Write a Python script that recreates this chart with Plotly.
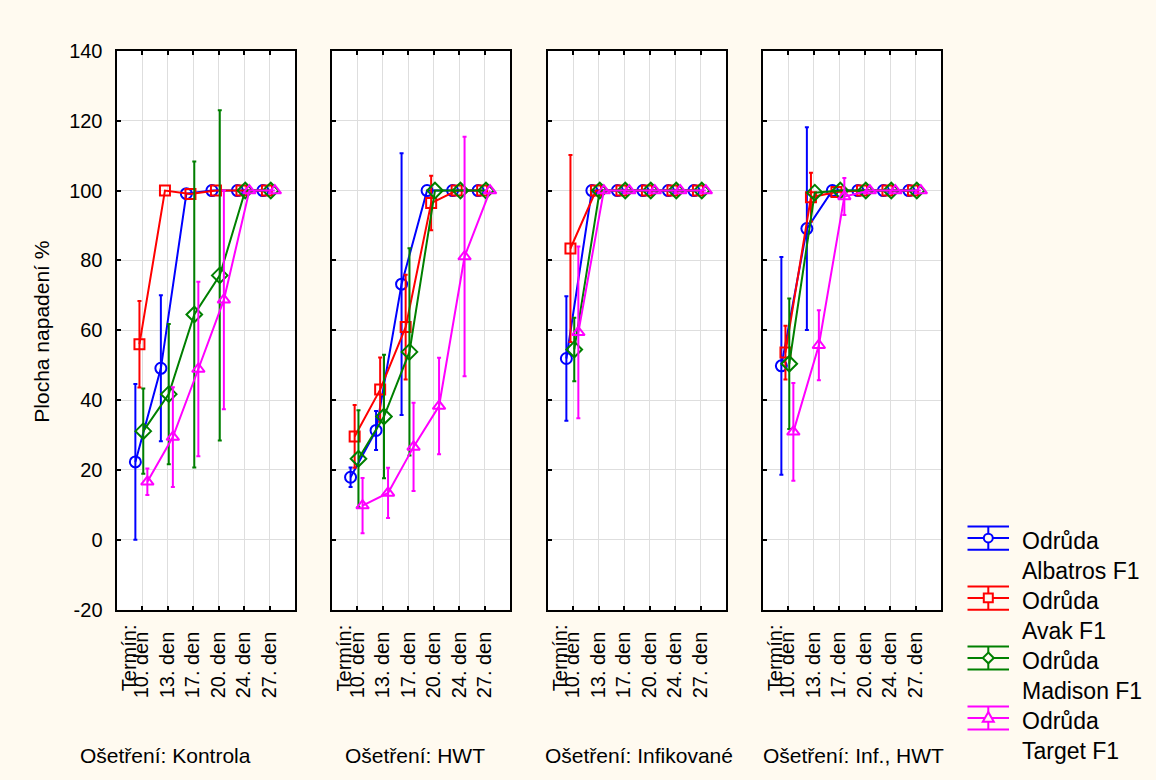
import plotly.graph_objects as go

# ---- data -------------------------------------------------------------
days = ["10. den", "13. den", "17. den", "20. den", "24. den", "27. den"]
treatments = ["Kontrola", "HWT", "Infikované", "Inf., HWT"]
varieties = ["Albatros F1", "Avak F1", "Madison F1", "Target F1"]

# mean infested area (%) per treatment, one list per variety
albatros_mean = [
    [22.3, 49.1, 99.1, 100, 100, 100],
    [17.9, 31.3, 73.2, 100, 100, 100],
    [51.9, 100, 100, 100, 100, 100],
    [49.8, 89.1, 100, 100, 100, 100],
]
albatros_err = [
    [22.3, 20.9, 0, 0, 0, 0],
    [2.8, 5.6, 37.5, 0, 0, 0],
    [17.8, 0, 0, 0, 0, 0],
    [31.2, 29.0, 0, 0, 0, 0],
]
avak_mean = [
    [56.0, 100, 99.0, 100, 100, 100],
    [29.6, 43.0, 60.9, 96.4, 100, 100],
    [83.4, 100, 100, 100, 100, 100],
    [53.6, 98.1, 99.6, 100, 100, 100],
]
avak_err = [
    [12.4, 0, 0, 0, 0, 0],
    [9.0, 9.2, 15.0, 7.8, 0, 0],
    [26.8, 0, 0, 0, 0, 0],
    [7.7, 7.0, 0, 0, 0, 0],
]
madison_mean = [
    [31.1, 41.7, 64.5, 75.7, 100, 100],
    [23.2, 35.3, 53.8, 100, 100, 100],
    [54.5, 100, 100, 100, 100, 100],
    [50.4, 99.4, 100, 100, 100, 100],
]
madison_err = [
    [12.2, 20.1, 43.8, 47.3, 0, 0],
    [13.9, 17.7, 29.7, 0, 0, 0],
    [9.1, 0, 0, 0, 0, 0],
    [18.7, 0, 0, 0, 0, 0],
]
target_mean = [
    [16.6, 29.4, 48.9, 68.7, 100, 100],
    [9.8, 13.4, 26.6, 38.3, 81.1, 100],
    [59.4, 100, 100, 100, 100, 100],
    [30.9, 55.7, 98.3, 100, 100, 100],
]
target_err = [
    [3.8, 14.3, 25.0, 31.3, 0, 0],
    [7.9, 7.2, 12.6, 13.8, 34.3, 0],
    [24.6, 0, 0, 0, 0, 0],
    [14.0, 10.0, 5.3, 0, 0, 0],
]
y_ticks = [-20, 0, 20, 40, 60, 80, 100, 120, 140]
y_tick_text = ["-20", "0", "20", "40", "60", "80", "100", "120", "140"]

# ---- styling ----------------------------------------------------------
W, H = 1156, 780
FONT = "Liberation Sans, Arial, sans-serif"
BG = "#FFFAF0"
GRID = "#DEDEDE"

series = [
    dict(name=varieties[0], mean=albatros_mean, err=albatros_err,
         color="#0000FF", symbol="circle-open", size=11, dx=-0.26),
    dict(name=varieties[1], mean=avak_mean, err=avak_err,
         color="#FF0000", symbol="square-open", size=10, dx=-0.10),
    dict(name=varieties[2], mean=madison_mean, err=madison_err,
         color="#008000", symbol="diamond-open", size=12, dx=0.05),
    dict(name=varieties[3], mean=target_mean, err=target_err,
         color="#FF00FF", symbol="triangle-up-open", size=11, dx=0.21),
]


def px_x(p):
    return p / W


def px_y(p):
    return 1 - p / H


panel_left = [116.5, 331.7, 547.5, 762.5]
panel_width = 178.5
plot_top, plot_bottom = 41, 616

fig = go.Figure()
layout = dict(
    width=W, height=H, autosize=False,
    margin=dict(l=0, r=0, t=0, b=0, pad=0),
    paper_bgcolor=BG, plot_bgcolor="white",
    font=dict(family=FONT, size=20, color="black"),
    showlegend=False,
)

for p in range(len(treatments)):
    sfx = "" if p == 0 else str(p + 1)
    xa, ya = "x" + sfx, "y" + sfx
    for s in series:
        xs = [i + s["dx"] for i in range(len(days))]
        fig.add_trace(go.Scatter(
            x=xs, y=s["mean"][p], xaxis=xa, yaxis=ya, mode="lines+markers",
            line=dict(color=s["color"], width=2),
            marker=dict(symbol=s["symbol"], size=s["size"], color=s["color"],
                        line=dict(width=2, color=s["color"])),
            name=s["name"], hoverinfo="skip",
        ))
        # error bars only where a spread exists
        ex = [x for x, e in zip(xs, s["err"][p]) if e > 0]
        ey = [y for y, e in zip(s["mean"][p], s["err"][p]) if e > 0]
        ee = [e for e in s["err"][p] if e > 0]
        fig.add_trace(go.Scatter(
            x=ex, y=ey, xaxis=xa, yaxis=ya, mode="markers",
            marker=dict(size=1, opacity=0),
            error_y=dict(type="data", array=ee, visible=True,
                         color=s["color"], thickness=2, width=2),
            hoverinfo="skip",
        ))

    left = panel_left[p]
    layout["xaxis" + sfx] = dict(
        domain=[px_x(left), px_x(left + panel_width)], anchor=ya,
        range=[-1, len(days)], tickvals=list(range(len(days))), ticktext=days,
        tickangle=-90, ticks="inside", ticklen=4, tickwidth=1.5, tickcolor="black",
        showline=True, linecolor="black", linewidth=2, mirror="ticks",
        showgrid=True, gridcolor=GRID, gridwidth=1, zeroline=False,
        tickfont=dict(size=20), ticklabelstandoff=12,
    )
    layout["yaxis" + sfx] = dict(
        domain=[px_y(plot_bottom), px_y(plot_top)], anchor=xa,
        range=[-20, 140], tickvals=y_ticks, ticktext=y_tick_text,
        ticks="inside", ticklen=4, tickwidth=1.5, tickcolor="black",
        showline=True, linecolor="black", linewidth=2, mirror=True,
        showgrid=True, gridcolor=GRID, gridwidth=1, zeroline=False,
        showticklabels=(p == 0), tickfont=dict(size=20), ticklabelstandoff=8,
    )

annotations = []
shapes = []

# first category label carries the "Termín:" prefix on an extra line
for p in range(len(treatments)):
    sfx = "" if p == 0 else str(p + 1)
    annotations.append(dict(
        text="Termín:", x=0, xref="x" + sfx, xshift=-13,
        y=px_y(666), yref="paper", textangle=-90, showarrow=False,
        xanchor="center", yanchor="middle", font=dict(size=20),
    ))

# treatment titles under the panels
title_centers = [165, 414.5, 638.5, 853.5]
for p, t in enumerate(treatments):
    annotations.append(dict(
        text="Ošetření: " + t, x=px_x(title_centers[p]), xref="paper",
        y=px_y(766), yref="paper", showarrow=False,
        xanchor="center", yanchor="middle", font=dict(size=21),
    ))

# y axis title
annotations.append(dict(
    text="Plocha napadení %", x=px_x(42), y=px_y(330), xref="paper",
    yref="paper", textangle=-90, showarrow=False,
    xanchor="center", yanchor="middle", font=dict(size=21),
))

# legend: line + error-bar icon with marker, two-line label
leg_x0, leg_x1, leg_xc = 967.5, 1009, 988.3
for k, s in enumerate(series):
    ym = 542.3 + 61.7 * k
    yt, yb = ym - 11.8, ym + 12
    c = s["color"]
    for y in (yt, ym, yb):
        shapes.append(dict(type="line", xref="paper", yref="paper",
                           x0=px_x(leg_x0), x1=px_x(leg_x1), y0=px_y(y), y1=px_y(y),
                           line=dict(color=c, width=2)))
    shapes.append(dict(type="line", xref="paper", yref="paper",
                       x0=px_x(leg_xc), x1=px_x(leg_xc), y0=px_y(yt), y1=px_y(yb),
                       line=dict(color=c, width=2)))
    r = 4.5
    if k == 0:
        shapes.append(dict(type="circle", xref="paper", yref="paper",
                           x0=px_x(leg_xc - r), x1=px_x(leg_xc + r),
                           y0=px_y(ym + r), y1=px_y(ym - r),
                           line=dict(color=c, width=2), fillcolor=BG))
    elif k == 1:
        shapes.append(dict(type="rect", xref="paper", yref="paper",
                           x0=px_x(leg_xc - r), x1=px_x(leg_xc + r),
                           y0=px_y(ym + r), y1=px_y(ym - r),
                           line=dict(color=c, width=2), fillcolor=BG))
    elif k == 2:
        pts = [(leg_xc, ym - 5.5), (leg_xc + 5.5, ym), (leg_xc, ym + 5.5), (leg_xc - 5.5, ym)]
        path = "M" + " L".join(f"{px_x(a):.5f},{px_y(b):.5f}" for a, b in pts) + " Z"
        shapes.append(dict(type="path", xref="paper", yref="paper", path=path,
                           line=dict(color=c, width=2), fillcolor=BG))
    else:
        pts = [(leg_xc, ym - 6), (leg_xc + 5.5, ym + 4), (leg_xc - 5.5, ym + 4)]
        path = "M" + " L".join(f"{px_x(a):.5f},{px_y(b):.5f}" for a, b in pts) + " Z"
        shapes.append(dict(type="path", xref="paper", yref="paper", path=path,
                           line=dict(color=c, width=2), fillcolor=BG))
    annotations.append(dict(
        text="Odrůda<br>" + s["name"], x=px_x(1020), y=px_y(ym - 12),
        xref="paper", yref="paper", showarrow=False, align="left",
        xanchor="left", yanchor="top", font=dict(size=23),
    ))

layout["annotations"] = annotations
layout["shapes"] = shapes
fig.update_layout(**layout)

fig.write_html("out.html")
